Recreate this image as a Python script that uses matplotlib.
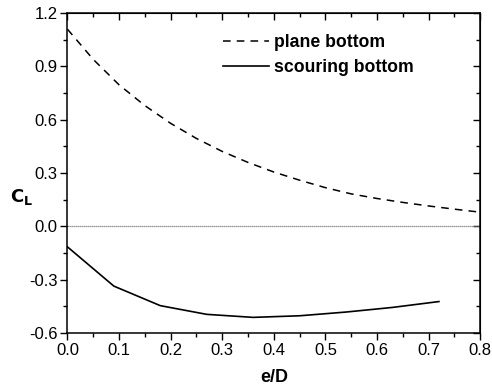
import numpy as np
import matplotlib
matplotlib.use('Agg')
from matplotlib import pyplot as plt
from matplotlib.ticker import MultipleLocator

plt.rcParams['font.family'] = ['Liberation Sans', 'DejaVu Sans']

# plane bottom (dashed)
plane_x = [0.0, 0.05, 0.1, 0.15, 0.2, 0.25, 0.3, 0.35, 0.4, 0.45, 0.5, 0.55, 0.6, 0.65, 0.7, 0.75, 0.8]
plane_y = [1.11, 0.94, 0.797, 0.68, 0.58, 0.495, 0.422, 0.36, 0.306, 0.26, 0.218, 0.183, 0.157, 0.135, 0.115, 0.097, 0.08]

# scouring bottom (solid)
scour_x = [0.0, 0.09, 0.18, 0.27, 0.36, 0.45, 0.54, 0.63, 0.72]
scour_y = [-0.115, -0.336, -0.446, -0.495, -0.512, -0.503, -0.482, -0.456, -0.423]

x_ticks = [0.0, 0.1, 0.2, 0.3, 0.4, 0.5, 0.6, 0.7, 0.8]
y_ticks = [-0.6, -0.3, 0.0, 0.3, 0.6, 0.9, 1.2]

fig = plt.figure(figsize=(4.92, 3.87), dpi=100)
ax = fig.add_axes([0.137, 0.1395, 0.839, 0.8265])

ax.axhline(0, color='#777777', lw=0.9, ls=(0, (1, 0.6)), zorder=1)
ax.plot(plane_x, plane_y, color='black', lw=1.1, ls=(0, (5, 4)), label='plane bottom')
ax.plot(scour_x, scour_y, color='black', lw=1.2, label='scouring bottom')

ax.set_xlim(0, 0.8)
ax.set_ylim(-0.6, 1.2)
ax.set_xticks(x_ticks)
ax.set_yticks(y_ticks)
ax.set_xticklabels([f'{v:.1f}' for v in x_ticks])
ax.set_yticklabels([f'{v:.1f}' for v in y_ticks])
ax.xaxis.set_minor_locator(MultipleLocator(0.05))
ax.yaxis.set_minor_locator(MultipleLocator(0.15))
ax.tick_params(which='major', direction='out', length=5, width=1, labelsize=12, pad=2)
ax.tick_params(which='minor', direction='out', length=3, width=1)

for side in ax.spines.values():
    side.set_linewidth(1.1)

# mirrored ticks pointing inward on top and right
top = ax.secondary_xaxis('top')
top.set_xticks(x_ticks)
top.xaxis.set_minor_locator(MultipleLocator(0.05))
top.tick_params(which='major', direction='in', length=5, width=1, labeltop=False)
top.tick_params(which='minor', direction='in', length=3, width=1)
right = ax.secondary_yaxis('right')
right.set_yticks(y_ticks)
right.yaxis.set_minor_locator(MultipleLocator(0.15))
right.tick_params(which='major', direction='in', length=5, width=1, labelright=False)
right.tick_params(which='minor', direction='in', length=3, width=1)

ax.set_xlabel('e/D', fontsize=13, fontweight='bold', labelpad=8)
fig.text(0.02, 0.49, r'$\mathbf{C_L}$', fontsize=13, ha='left', va='center')

ax.legend(loc='upper left', bbox_to_anchor=(0.36, 0.957), frameon=False,
          prop={'size': 12.7, 'weight': 'bold'}, handlelength=2.6, handletextpad=0.3,
          labelspacing=0.45, borderaxespad=0)

fig.savefig('out.png', dpi=100)
